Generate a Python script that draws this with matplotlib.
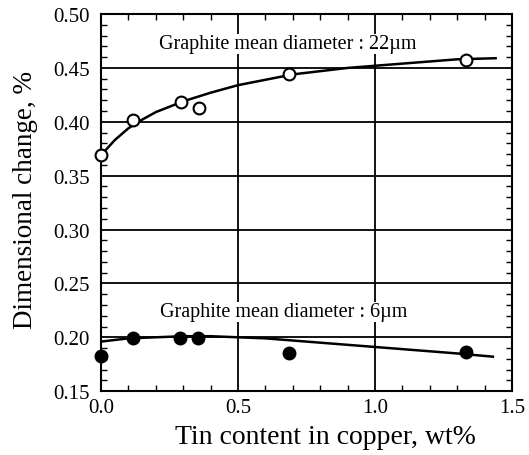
import matplotlib.pyplot as plt
from matplotlib.ticker import MultipleLocator

plt.rcParams['font.family'] = ['Liberation Serif', 'DejaVu Serif']

# measured points, graphite 22um (open) and 6um (filled)
tin_22 = [0.0, 0.118, 0.292, 0.357, 0.686, 1.332]
dim_22 = [0.369, 0.402, 0.418, 0.413, 0.444, 0.457]
tin_6 = [0.0, 0.116, 0.288, 0.354, 0.685, 1.331]
dim_6 = [0.1825, 0.199, 0.199, 0.199, 0.185, 0.186]

# fitted curves
fit_x_22 = [0.0, 0.05, 0.1, 0.15, 0.2, 0.3, 0.4, 0.5, 0.6, 0.7, 0.8, 0.9, 1.0, 1.1, 1.2, 1.3, 1.44]
fit_y_22 = [0.369, 0.383, 0.394, 0.402, 0.409, 0.419, 0.427, 0.434, 0.439, 0.444, 0.447, 0.450,
            0.452, 0.454, 0.456, 0.458, 0.459]
fit_x_6 = [0.0, 0.1, 0.2, 0.3, 0.4, 0.5, 0.6, 0.7, 0.8, 0.9, 1.0, 1.1, 1.2, 1.3, 1.43]
fit_y_6 = [0.196, 0.199, 0.200, 0.201, 0.201, 0.200, 0.199, 0.197, 0.195, 0.193, 0.191,
           0.189, 0.187, 0.185, 0.182]

fig = plt.figure(figsize=(5.29, 4.56), dpi=100)
ax = fig.add_axes([0.191, 0.140, 0.777, 0.827])

ax.plot(fit_x_22, fit_y_22, color='black', lw=1.8, zorder=3)
ax.plot(fit_x_6, fit_y_6, color='black', lw=1.8, zorder=3)
ax.plot(tin_22, dim_22, 'o', ms=8.5, mfc='white', mec='black', mew=1.5, clip_on=False, zorder=4)
ax.plot(tin_6, dim_6, 'o', ms=8.5, mfc='black', mec='black', mew=1.5, clip_on=False, zorder=4)

ax.text(0.68, 0.4725, 'Graphite mean diameter : 22\u00b5m', ha='center', va='center', fontsize=14.5,
        bbox=dict(facecolor='white', edgecolor='none', pad=0.5), zorder=5)
ax.text(0.667, 0.2235, 'Graphite mean diameter : 6\u00b5m', ha='center', va='center', fontsize=14.5,
        bbox=dict(facecolor='white', edgecolor='none', pad=0.5), zorder=5)

ax.set_xlim(0, 1.5)
ax.set_ylim(0.15, 0.50)
ax.xaxis.set_major_locator(MultipleLocator(0.5))
ax.xaxis.set_minor_locator(MultipleLocator(0.1))
ax.yaxis.set_major_locator(MultipleLocator(0.05))
ax.yaxis.set_minor_locator(MultipleLocator(0.01))
ax.xaxis.set_major_formatter(lambda v, p: f'{v:.1f}')
ax.yaxis.set_major_formatter(lambda v, p: f'{v:.2f}')
ax.tick_params(which='both', direction='in', top=True, right=True, labelsize=15)
ax.tick_params(which='major', length=0)
ax.tick_params(axis='y', which='major', pad=8)
ax.tick_params(axis='x', which='major', pad=5)
ax.tick_params(which='minor', length=4, width=1)
ax.grid(True, which='major', color='black', lw=1.3)
for s in ax.spines.values():
    s.set_linewidth(1.5)

# axis titles placed as in the original
fig.text(0.616, 0.040, 'Tin content in copper, wt%', fontsize=20, ha='center', va='center')
fig.text(0.049, 0.562, 'Dimensional change, %', fontsize=19.5, ha='center', va='center',
         rotation=90)

plt.savefig('out.png', dpi=100)
